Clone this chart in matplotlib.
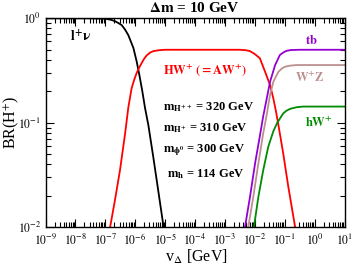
import numpy as np
import matplotlib
matplotlib.use('Agg')
import matplotlib.pyplot as plt
from matplotlib.ticker import LogLocator, FuncFormatter, NullFormatter

plt.rcParams['font.family'] = 'serif'
plt.rcParams['font.serif'] = ['Liberation Serif', 'DejaVu Serif']
plt.rcParams['mathtext.fontset'] = 'stix'

# values: log10(v_Delta / GeV) and branching ratio
lnu_logv = [-9.0, -7.5, -7.0, -6.91, -6.8, -6.68, -6.56, -6.45, -6.34, -6.23,
            -6.06, -5.95, -5.86, -5.76, -5.67, -5.56, -5.40, -5.23, -5.06, -5.0]
lnu_br = [1.0, 1.0, 0.99, 0.98, 0.965, 0.94, 0.90, 0.86, 0.78, 0.69,
          0.52, 0.385, 0.286, 0.199, 0.138, 0.095, 0.048, 0.0225, 0.0105, 0.0085]

hw_logv = [-6.90, -6.84, -6.68, -6.51, -6.34, -6.23, -6.12, -6.03, -5.95,
           -5.86, -5.78, -5.70, -5.62, -5.50, -5.39, -5.2, -5.0, -2.5, -2.3,
           -2.16, -2.0, -1.83, -1.66, -1.49, -1.38, -1.29, -1.21, -1.05,
           -0.88, -0.655, -0.63]
hw_br = [0.0085, 0.010, 0.018, 0.035, 0.078, 0.140, 0.214, 0.26, 0.30,
         0.34, 0.375, 0.41, 0.44, 0.47, 0.485, 0.495, 0.50, 0.50, 0.495,
         0.485, 0.455, 0.414, 0.31, 0.23, 0.171, 0.128, 0.095, 0.051,
         0.0245, 0.0102, 0.0095]

tb_logv = [-2.36, -2.33, -2.16, -1.99, -1.83, -1.72, -1.60, -1.49, -1.32,
           -1.16, -1.05, -0.95, -0.8, -0.5, 1.0]
tb_br = [0.009, 0.010, 0.0196, 0.041, 0.075, 0.115, 0.171, 0.247, 0.357,
         0.446, 0.47, 0.487, 0.497, 0.50, 0.50]

wz_logv = [-2.25, -2.22, -2.05, -1.88, -1.72, -1.60, -1.49, -1.38, -1.21,
           -1.10, -0.99, -0.8, -0.6, 1.0]
wz_br = [0.009, 0.010, 0.0196, 0.041, 0.079, 0.12, 0.185, 0.247, 0.308,
         0.33, 0.344, 0.353, 0.357, 0.357]

hwz_logv = [-2.06, -2.03, -1.88, -1.72, -1.55, -1.38, -1.25, -1.05, -0.95,
            -0.82, -0.6, -0.38, 1.0]
hwz_br = [0.009, 0.010, 0.0196, 0.035, 0.059, 0.083, 0.10, 0.123, 0.13,
          0.136, 0.141, 0.143, 0.143]

fig = plt.figure(figsize=(3.54, 2.67), dpi=100)
ax = fig.add_axes([45.5 / 354, 1 - 227.3 / 267, 299 / 354, 209 / 267])

lw = 1.3
ax.plot(10.0 ** np.array(lnu_logv), lnu_br, color='black', lw=lw)
ax.plot(10.0 ** np.array(hw_logv), hw_br, color='red', lw=lw)
ax.plot(10.0 ** np.array(tb_logv), tb_br, color='#9400d3', lw=lw)
ax.plot(10.0 ** np.array(wz_logv), wz_br, color='#bc8f8f', lw=lw)
ax.plot(10.0 ** np.array(hwz_logv), hwz_br, color='#008b00', lw=lw)

ax.set_xscale('log')
ax.set_yscale('log')
ax.set_xlim(1e-9, 10)
ax.set_ylim(1e-2, 1)

ax.xaxis.set_major_locator(LogLocator(base=10, numticks=20))
ax.xaxis.set_minor_locator(LogLocator(base=10, subs=np.arange(2, 10), numticks=100))
ax.yaxis.set_major_locator(LogLocator(base=10, numticks=20))
ax.yaxis.set_minor_locator(LogLocator(base=10, subs=np.arange(2, 10), numticks=100))
fmt = FuncFormatter(lambda v, p: r'$\mathrm{10^{%d}}$' % int(round(np.log10(v))))
ax.xaxis.set_major_formatter(fmt)
ax.yaxis.set_major_formatter(fmt)
ax.xaxis.set_minor_formatter(NullFormatter())
ax.yaxis.set_minor_formatter(NullFormatter())

ax.tick_params(which='both', direction='in', top=True, right=True,
               labelsize=8.5, width=0.8)
ax.tick_params(which='major', length=6)
ax.tick_params(axis='x', which='major', pad=3.8)
ax.tick_params(axis='y', which='major', pad=3)
ax.tick_params(which='minor', length=3.5)
for s in ax.spines.values():
    s.set_linewidth(1.0)

W, H = 354.0, 267.0

fig.text(196 / W, 1 - 257 / H, r'v$_{\Delta}$ [GeV]', fontsize=11.5,
         ha='center', va='center')
fig.text(11 / W, 1 - 122 / H, r'BR(H$^{+}$)', fontsize=11.5,
         ha='center', va='center', rotation=90)


def lab(x, y, s, c='black', size=9, ha='left'):
    fig.text(x / W, 1 - y / H, s, color=c, fontsize=size, ha=ha, va='center',
             fontweight='bold')


lab(194, 8, r'$\mathbf{\Delta m}$ = 10 GeV', size=11, ha='center')
lab(70, 37, r'$\mathbf{l^{+}\nu}$', size=10)
lab(163, 70, r'$\mathbf{HW^{+}\ (=AW^{+})}$', c='red')
lab(305, 41, r'$\mathbf{tb}$', c='#9400d3')
lab(295, 78, r'$\mathbf{W^{+}Z}$', c='#bc8f8f')
lab(305, 123, r'$\mathbf{hW^{+}}$', c='#008b00')
lab(163, 107, r'$\mathbf{m_{H^{++}}}$ = 320 GeV')
lab(163, 128, r'$\mathbf{m_{H^{+}}}$ = 310 GeV')
lab(163, 150, r'$\mathbf{m_{\phi^{0}}}$ = 300 GeV')
lab(167, 174, r'$\mathbf{m_{h}}$ = 114 GeV')

fig.savefig('out.png', dpi=100)
